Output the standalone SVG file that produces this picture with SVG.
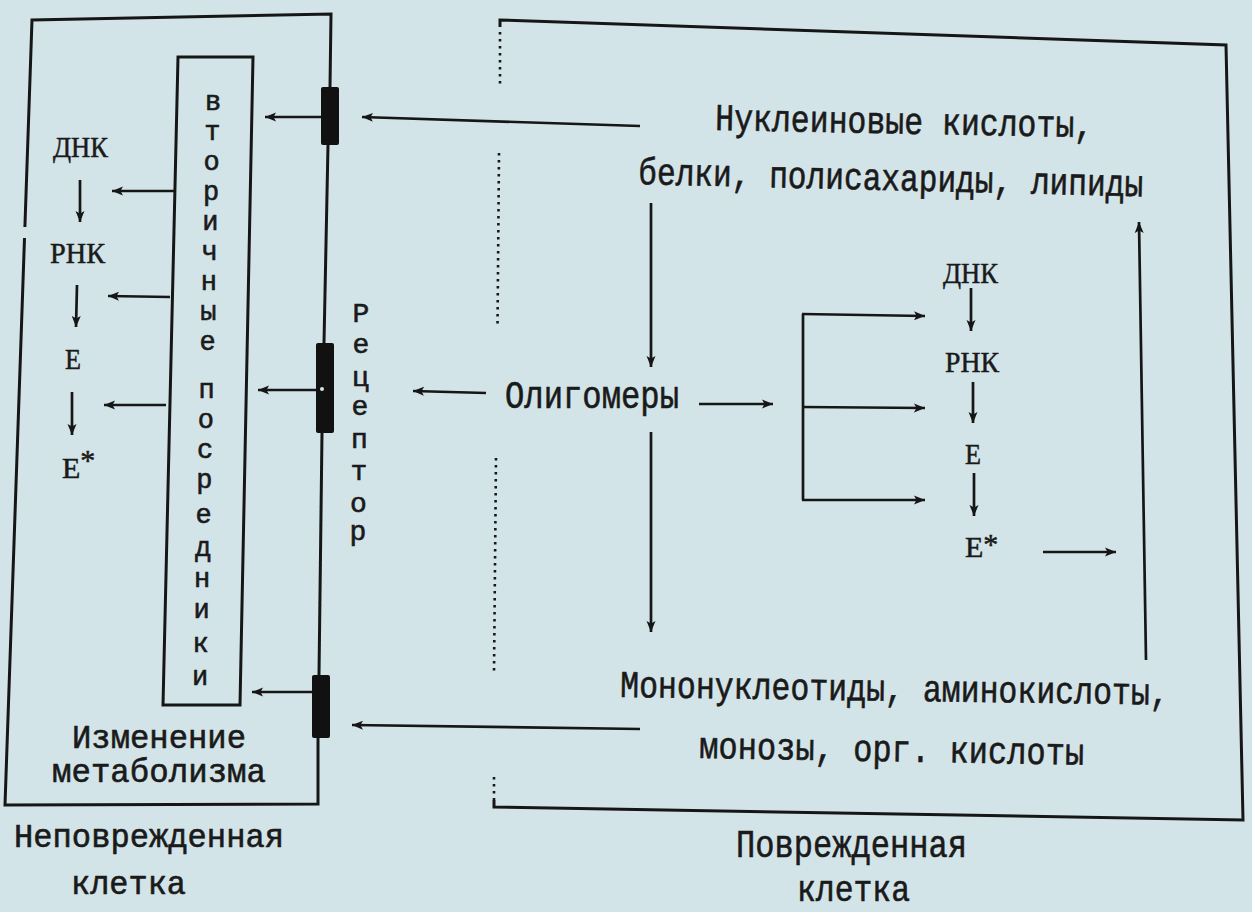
<svg xmlns="http://www.w3.org/2000/svg" width="1252" height="912" viewBox="0 0 1252 912">
<defs>
<marker id="ah" markerUnits="userSpaceOnUse" markerWidth="14" markerHeight="12" refX="11" refY="5" orient="auto">
<path d="M0,0.5 L11,5 L0,9.5 L2.5,5 Z" fill="#161616"/>
</marker>
<style>
.bg{fill:#d3e4e8}
.box{fill:none;stroke:#161616;stroke-width:3;stroke-linejoin:miter}
.dot{fill:none;stroke:#161616;stroke-width:2.6;stroke-dasharray:2.5 4.5}
.ar{fill:none;stroke:#161616;stroke-width:2.7;marker-end:url(#ah)}
.ln{fill:none;stroke:#161616;stroke-width:2.7}
.rec{fill:#111}
.m{font-family:"Liberation Mono","DejaVu Sans Mono",monospace;fill:#1a1a1a;stroke:#1a1a1a;stroke-width:0.6}
.mb{font-size:38px}
.ms{font-size:33px}
.v{font-family:"Liberation Mono","DejaVu Sans Mono",monospace;fill:#1a1a1a;stroke:#1a1a1a;stroke-width:0.6;text-anchor:middle}
.s{font-family:"Liberation Serif","DejaVu Serif",serif;fill:#1a1a1a;stroke:#1a1a1a;stroke-width:0.5;font-size:30px}
</style>
</defs>
<rect class="bg" x="0" y="0" width="1252" height="912"/>

<g id="intact-cell">
<polyline class="box" points="24.9,227 32,20 331,14 330,87"/>
<polyline class="box" points="328,145 324,343"/>
<polyline class="box" points="322,433 319,675"/>
<polyline class="box" points="318,738 318,804 5,805 24.5,238"/>
<text class="m ms" x="14" y="847" textLength="270" lengthAdjust="spacingAndGlyphs">Неповрежденная</text>
<text class="m ms" x="71" y="894" textLength="115" lengthAdjust="spacingAndGlyphs">клетка</text>
</g>

<g id="receptors">
<rect class="rec" x="321" y="87" width="18" height="58" rx="2"/>
<rect class="rec" x="316" y="343" width="18" height="90" rx="2"/>
<circle cx="322" cy="389" r="2" fill="#d3e4e8"/>
<rect class="rec" x="312" y="675" width="18" height="63" rx="2"/>
<text class="v" font-size="28"><tspan x="361" y="322">Р</tspan><tspan x="361" y="353">е</tspan><tspan x="360.5" y="386">ц</tspan><tspan x="360" y="415">е</tspan><tspan x="359.5" y="448">п</tspan><tspan x="359" y="480">т</tspan><tspan x="358.5" y="512">о</tspan><tspan x="358" y="540">р</tspan></text>
</g>

<g id="second-messengers">
<polygon class="box" points="178,57 253,57 240,705 163,705"/>
<text class="v" font-size="27"><tspan x="213" y="110">в</tspan><tspan x="212.3" y="140">т</tspan><tspan x="211.6" y="170">о</tspan><tspan x="211" y="200">р</tspan><tspan x="210.3" y="230">и</tspan><tspan x="209.6" y="260">ч</tspan><tspan x="208.9" y="290">н</tspan><tspan x="208.3" y="320">ы</tspan><tspan x="207.6" y="350">е</tspan></text>
<text class="v" font-size="27"><tspan x="206.5" y="398">п</tspan><tspan x="205.8" y="428">о</tspan><tspan x="205" y="458">с</tspan><tspan x="204.4" y="488">р</tspan><tspan x="203.7" y="523">е</tspan><tspan x="203" y="556">д</tspan><tspan x="202.2" y="587">н</tspan><tspan x="201.5" y="618">и</tspan><tspan x="200.7" y="652">к</tspan><tspan x="200" y="685">и</tspan></text>
</g>

<g id="intact-chain">
<text class="s" x="53" y="157" textLength="55" lengthAdjust="spacingAndGlyphs">ДНК</text>
<text class="s" x="50" y="263" textLength="55" lengthAdjust="spacingAndGlyphs">РНК</text>
<text class="s" x="65" y="369" textLength="16" lengthAdjust="spacingAndGlyphs">Е</text>
<text class="s" x="62" y="478">Е<tspan dy="-8" font-size="30">*</tspan></text>
</g>

<g id="metabolism-change">
<text class="m ms" x="72" y="748" textLength="174" lengthAdjust="spacingAndGlyphs">Изменение</text>
<text class="m ms" x="52" y="782" textLength="214" lengthAdjust="spacingAndGlyphs">метаболизма</text>
</g>

<g id="damaged-cell">
<polyline class="box" points="500,27 500,20 1226,45 1243,820 494,807 494,800"/>
<line class="dot" x1="500" y1="32" x2="500" y2="88"/>
<line class="dot" x1="499" y1="153" x2="497.5" y2="328"/>
<line class="dot" x1="496" y1="458" x2="494" y2="673"/>
<line class="dot" x1="494" y1="777" x2="494" y2="800"/>
<text class="m mb" x="736" y="857" textLength="231" lengthAdjust="spacingAndGlyphs">Поврежденная</text>
<text class="m" font-size="36" x="797" y="901" textLength="113" lengthAdjust="spacingAndGlyphs">клетка</text>
</g>

<g id="polymers">
<text class="m mb" x="715" y="130" transform="rotate(1.1 715 130)" textLength="378" lengthAdjust="spacingAndGlyphs">Нуклеиновые кислоты,</text>
<text class="m mb" x="638" y="184" transform="rotate(1.4 638 184)" textLength="505" lengthAdjust="spacingAndGlyphs">белки, полисахариды, липиды</text>
</g>

<g id="oligomers">
<text class="m mb" x="505" y="408" textLength="174" lengthAdjust="spacingAndGlyphs">Олигомеры</text>
</g>

<g id="monomers">
<text class="m mb" x="0" y="0" transform="translate(620 697) rotate(0.8) scale(0.83 1)">Мононуклеотиды, аминокислоты,</text>
<text class="m mb" x="699" y="758" transform="rotate(1 699 758)" textLength="385" lengthAdjust="spacingAndGlyphs">монозы, орг. кислоты</text>
</g>

<g id="damaged-chain">
<text class="s" x="943" y="283" textLength="55" lengthAdjust="spacingAndGlyphs">ДНК</text>
<text class="s" x="945" y="372" textLength="54" lengthAdjust="spacingAndGlyphs">РНК</text>
<text class="s" x="965" y="464" textLength="16" lengthAdjust="spacingAndGlyphs">Е</text>
<text class="s" x="965" y="557">Е<tspan dy="-3" font-size="30">*</tspan></text>
</g>

<g id="connectors">
<line class="ar" x1="640" y1="126" x2="362" y2="117"/>
<line class="ar" x1="486" y1="393" x2="413" y2="391"/>
<line class="ar" x1="640" y1="729" x2="352" y2="725"/>
<line class="ar" x1="321" y1="117" x2="265" y2="117"/>
<line class="ar" x1="316" y1="390" x2="258" y2="390"/>
<line class="ar" x1="312" y1="692" x2="252" y2="692"/>
<line class="ar" x1="174" y1="191" x2="112" y2="191"/>
<line class="ar" x1="170" y1="297" x2="108" y2="296"/>
<line class="ar" x1="166" y1="405" x2="104" y2="405"/>
<line class="ar" x1="80" y1="180" x2="80" y2="222"/>
<line class="ar" x1="77" y1="285" x2="76" y2="327"/>
<line class="ar" x1="72" y1="392" x2="72" y2="435"/>
<line class="ar" x1="651" y1="203" x2="651" y2="367"/>
<line class="ar" x1="651" y1="432" x2="651" y2="632"/>
<line class="ar" x1="699" y1="404" x2="773" y2="404"/>
<line class="ln" x1="803" y1="314" x2="803" y2="500"/>
<line class="ar" x1="802" y1="314" x2="925" y2="316"/>
<line class="ar" x1="802" y1="407" x2="925" y2="408"/>
<line class="ar" x1="802" y1="500" x2="925" y2="500"/>
<line class="ar" x1="971" y1="288" x2="971" y2="331"/>
<line class="ar" x1="973" y1="382" x2="973" y2="423"/>
<line class="ar" x1="974" y1="473" x2="974" y2="516"/>
<line class="ar" x1="1043" y1="552" x2="1116" y2="552"/>
<line class="ar" x1="1146" y1="660" x2="1139" y2="222"/>
</g>
</svg>
